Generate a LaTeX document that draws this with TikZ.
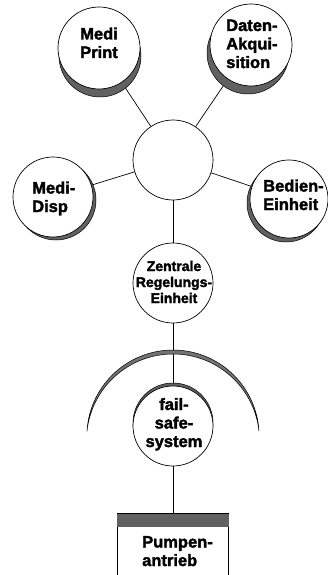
\documentclass[tikz,border=0pt]{standalone}
\usepackage{fontspec}
\setmainfont{Liberation Sans}[BoldFont={Liberation Sans Bold},BoldFeatures={FakeBold=2}]
\usetikzlibrary{shadows}
\pgfdeclarelayer{background}
\pgfsetlayers{background,main}
\begin{document}
\begin{tikzpicture}[x=1pt,y=1pt,
  disc/.style={circle,draw,fill=white,line width=0.7pt,inner sep=0pt,minimum size=#1},
  shd/.style n args={2}{general shadow={shadow xshift=#1,shadow yshift=#2,fill=black!62,draw=black,line width=0.5pt}},
  lbl/.style={font=\fontsize{16.5}{18.5}\selectfont\bfseries,inner sep=0pt},
  conn/.style={line width=0.7pt}]
\useasboundingbox (0,0) rectangle (328,-575);
% circles
\node[disc=82pt,shd={1pt}{-8pt}] (mp) at (99,-48) {};
\node[disc=82pt,shd={-3pt}{-8pt}] (da) at (251,-45) {};
\node[disc=80pt] (hub) at (173,-160) {};
\node[disc=80pt,shd={3pt}{-3pt}] (md) at (53,-197) {};
\node[disc=78pt,shd={-3pt}{-4pt}] (be) at (289,-199) {};
\node[disc=80pt] (ze) at (173,-283) {};
\node[disc=80pt,shd={0pt}{3pt}] (fs) at (173,-426) {};
\node[draw,line width=0.7pt,minimum width=111pt,minimum height=80pt,anchor=north,inner sep=0pt] (pump) at (173,-513) {};
\fill[black!62] (pump.north west) rectangle ([yshift=-14pt]pump.north east);
\draw[line width=0.7pt] (pump.north west) -- (pump.north east);
% crescent
\filldraw[fill=black!55,line width=0.5pt] (87,-431) arc[start angle=176.57,end angle=3.43,radius=86.15] arc[start angle=6.32,end angle=173.68,radius=86.53] -- cycle;
% texts
\node[lbl,align=left,anchor=base west] (mpT) at (80,-58) {Medi\\Print};
\node[lbl,align=left,anchor=base west] (daT) at (226,-68) {Daten-\\Akqui-\\sition};
\node[lbl,align=left,anchor=base west] (mdT) at (32,-212) {Medi-\\Disp};
\node[lbl,align=left,anchor=base west] (beT) at (263,-210) {Bedien-\\Einheit};
\node[lbl,font=\fontsize{14}{16}\selectfont\bfseries,align=center,anchor=base] (zeT) at (174,-303) {Zentrale\\Regelungs-\\Einheit};
\node[lbl,align=center,anchor=base] (fsT) at (174,-447) {fail-\\safe-\\system};
\node[lbl,align=left,anchor=base west] (puT) at (142,-566) {Pumpen-\\antrieb};
% connectors
\begin{pgfonlayer}{background}
\draw[conn] (mp) -- (hub);
\draw[conn] (da) -- (hub);
\draw[conn] (md) -- (hub);
\draw[conn] (be) -- (hub);
\draw[conn] (hub) -- (ze);
\draw[conn] (ze) -- (fs);
\draw[conn] (fs) -- (pump);
\end{pgfonlayer}
\end{tikzpicture}
\end{document}
